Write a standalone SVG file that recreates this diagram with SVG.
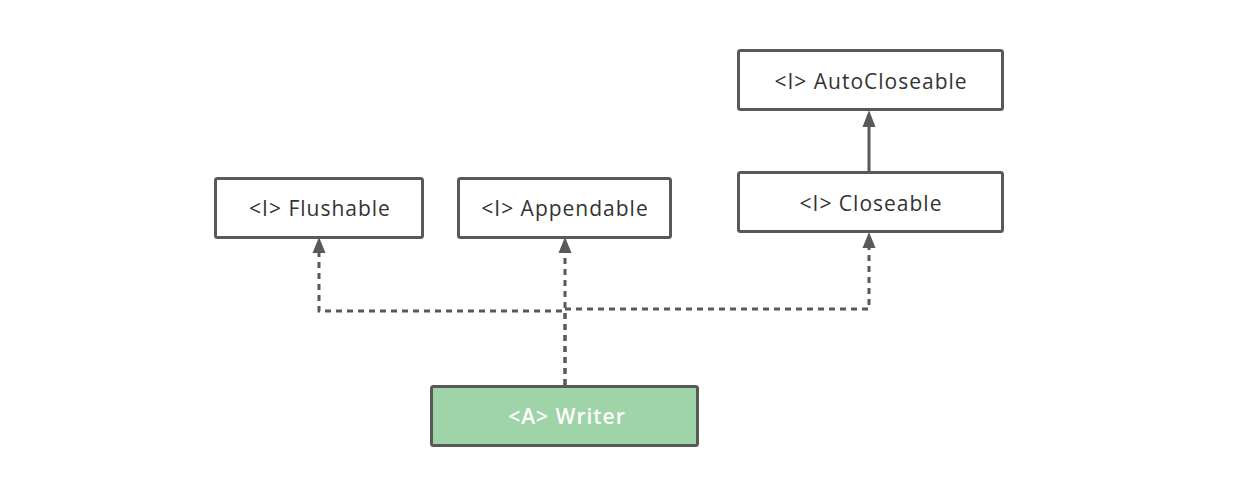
<svg xmlns="http://www.w3.org/2000/svg" width="1256" height="497" viewBox="0 0 1256 497">
<defs>
<style>
.box{fill:#fff;stroke:#595959;stroke-width:3;}
.green{fill:#9fd3a8;}
.t{font-family:"Open Sans","Noto Sans",sans-serif;font-size:21px;letter-spacing:1px;fill:#333;text-anchor:middle;dominant-baseline:central;}
.tw{fill:#fff;font-weight:600;}
.c{fill:none;stroke:#595959;stroke-width:3;}
.d{stroke-dasharray:6 5;}
.ah{fill:#595959;}
</style>
</defs>
<rect width="1256" height="497" fill="#fff"/>
<g id="connectors">
<path class="c d" d="M565 385 V311 H319 V252"/>
<path class="c d" d="M565 385 V252"/>
<path class="c d" d="M565 309 H869 V247"/>
<path class="c" d="M869 171 V125"/>
<path class="ah" d="M319 237 L325.5 253 L312.5 253 Z"/>
<path class="ah" d="M565 237 L571.5 253 L558.5 253 Z"/>
<path class="ah" d="M869 232 L875.5 248 L862.5 248 Z"/>
<path class="ah" d="M869 110 L875.5 127 L862.5 127 Z"/>
</g>
<g id="flushable"><rect class="box" x="215.5" y="178.5" width="207" height="59" rx="2"/><text class="t" x="320" y="208">&lt;I&gt; Flushable</text></g>
<g id="appendable"><rect class="box" x="458.5" y="178.5" width="212" height="59" rx="2"/><text class="t" x="565" y="208">&lt;I&gt; Appendable</text></g>
<g id="closeable"><rect class="box" x="738.5" y="172.5" width="264" height="59" rx="2"/><text class="t" x="871" y="203">&lt;I&gt; Closeable</text></g>
<g id="autocloseable"><rect class="box" x="738.5" y="50.5" width="264" height="59" rx="2"/><text class="t" x="871" y="81">&lt;I&gt; AutoCloseable</text></g>
<g id="writer"><rect class="box green" x="431.5" y="386.5" width="266" height="59" rx="2"/><text class="t tw" x="567" y="416">&lt;A&gt; Writer</text></g>
</svg>
